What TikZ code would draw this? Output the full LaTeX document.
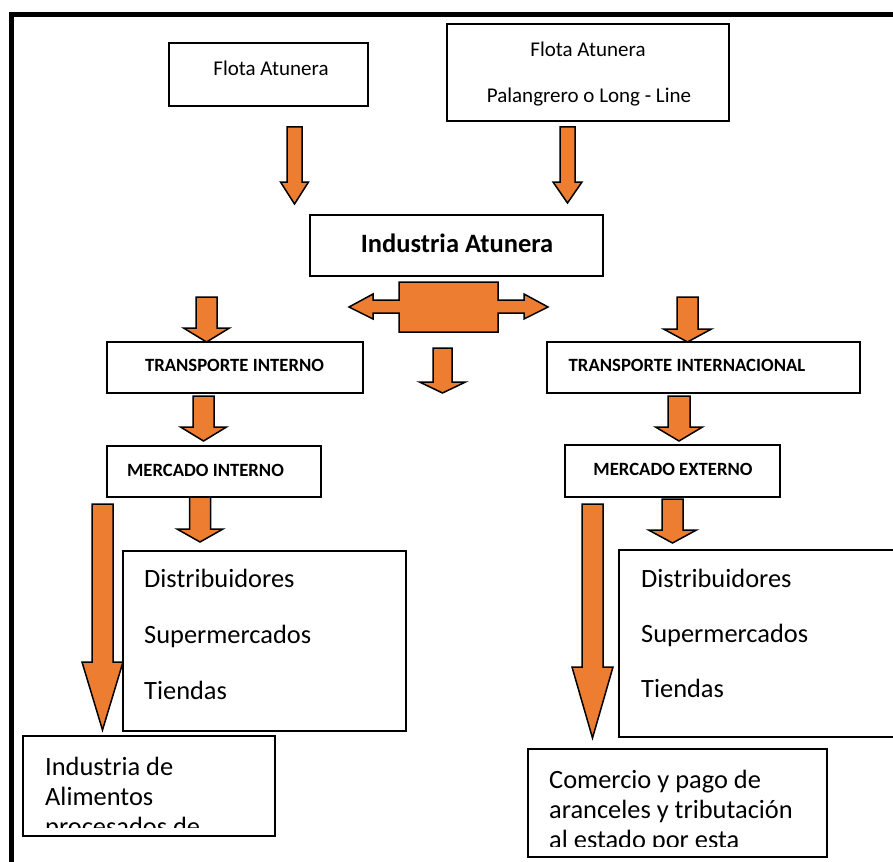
\documentclass[tikz,border=0pt]{standalone}
\usepackage{fontspec}
\setmainfont{Carlito}
\definecolor{arrorange}{HTML}{ED7D31}
\newcommand{\dnarrow}[6]{\draw[blockarrow] ({#1-#5},#2) -- ({#1+#5},#2) -- ({#1+#5},#3) -- ({#1+#6},#3) -- (#1,#4) -- ({#1-#6},#3) -- ({#1-#5},#3) -- cycle;}
\tikzset{
  box/.style={draw=black, line width=1.6pt, fill=white, inner sep=0pt, rectangle},
  blockarrow/.style={draw=black, fill=arrorange, line width=1.5pt, line join=miter},
  txtsmall/.style={font=\fontsize{21}{24}\selectfont, inner sep=0pt, anchor=base},
  txtbold/.style={font=\bfseries\fontsize{18.7}{22}\selectfont, inner sep=0pt, anchor=base},
  txttitle/.style={font=\bfseries\fontsize{26.5}{30}\selectfont, inner sep=0pt, anchor=base},
  txtbig/.style={font=\fontsize{26.4}{30}\selectfont, inner sep=0pt, anchor=base west},
}
\begin{document}
\begin{tikzpicture}[x=1pt,y=-1pt]
\clip (0,0) rectangle (893,861);
\useasboundingbox (0,0) rectangle (893,861);
\fill[white] (0,0) rectangle (893,861);
% outer frame
\draw[line width=5pt] (11.5,900) -- (11.5,15) -- (900,15);

% boxes
\node[box, minimum width=199pt, minimum height=63pt] (flotaA) at (268.5,74.5) {};
\node[box, minimum width=282pt, minimum height=97pt] (flotaB) at (588,72.5) {};
\node[box, minimum width=293pt, minimum height=61pt] (ind) at (456.5,245.5) {};
\node[box, minimum width=256pt, minimum height=51pt] (ti) at (235,367.5) {};
\node[box, minimum width=214pt, minimum height=51pt] (mi) at (214,471.5) {};
\node[box, minimum width=313pt, minimum height=51pt] (tint) at (703.5,367.5) {};
\node[box, minimum width=215pt, minimum height=52pt] (me) at (672.5,471) {};
\node[box, minimum width=283pt, minimum height=180pt] (dL) at (264.5,641) {};
\node[box, minimum width=300pt, minimum height=187pt] (dR) at (769,643.5) {};
\node[box, minimum width=252pt, minimum height=100pt] (bL) at (149,786) {};
\node[box, minimum width=299pt, minimum height=108pt] (bR) at (677.5,803) {};

% texts
\node[txtsmall] (tFA) at (271,76) {Flota Atunera};
\node[txtsmall] (tFB1) at (588,56.5) {Flota Atunera};
\node[txtsmall] (tFB2) at (589,102.5) {Palangrero o Long - Line};
\node[txttitle] (tInd) at (457,252) {Industria Atunera};
\node[txtbold] (tTI) at (234.5,371.5) {TRANSPORTE INTERNO};
\node[txtbold] (tMI) at (205.5,476) {MERCADO INTERNO};
\node[txtbold] (tTInt) at (687,371) {TRANSPORTE INTERNACIONAL};
\node[txtbold] (tME) at (673,475) {MERCADO EXTERNO};
\node[txtbig] (dL1) at (144,587) {Distribuidores};
\node[txtbig] (dL2) at (144,643) {Supermercados};
\node[txtbig] (dL3) at (144,699) {Tiendas};
\node[txtbig] (dR1) at (641,587) {Distribuidores};
\node[txtbig] (dR2) at (641,642) {Supermercados};
\node[txtbig] (dR3) at (641,697) {Tiendas};
\begin{scope}
\clip (24,737) rectangle (274,827);
\node[txtbig] (bL1) at (45,775) {Industria de};
\node[txtbig] (bL2) at (45,805) {Alimentos};
\node[txtbig] (bL3) at (45,835) {procesados de};
\end{scope}
\begin{scope}
\clip (529,750) rectangle (826,846);
\node[txtbig] (bR1) at (549,788) {Comercio y pago de};
\node[txtbig] (bR2) at (549,818) {aranceles y tributación};
\node[txtbig] (bR3) at (549,848) {al estado por esta};
\end{scope}

% block arrows
\dnarrow{294.5}{127}{182}{204}{7.5}{14}
\dnarrow{567.5}{127}{182}{203}{7.5}{14.5}
\dnarrow{206.5}{297}{328}{342}{10.5}{23}
\dnarrow{203.5}{396}{427}{441}{10.5}{23}
\dnarrow{200}{497}{529}{542}{10.5}{23}
\dnarrow{102.5}{504}{662}{730}{10.5}{20.5}
\dnarrow{442.5}{348}{382}{393}{9.5}{23}
\dnarrow{687.5}{297}{329}{342}{10.5}{24}
\dnarrow{679}{396}{427}{441}{11}{23.5}
\dnarrow{672.5}{499}{530}{543}{10.5}{24}
\dnarrow{592.5}{504}{667}{738}{10.5}{20.5}
% double arrow
\draw[blockarrow] (399,282) -- (498,282) -- (498,300) -- (524,300) -- (524,294) -- (548,307) -- (524,319) -- (524,313) -- (498,313) -- (498,332) -- (399,332) -- (399,313) -- (373,313) -- (373,319) -- (349,307) -- (373,294) -- (373,300) -- (399,300) -- cycle;
\end{tikzpicture}
\end{document}
